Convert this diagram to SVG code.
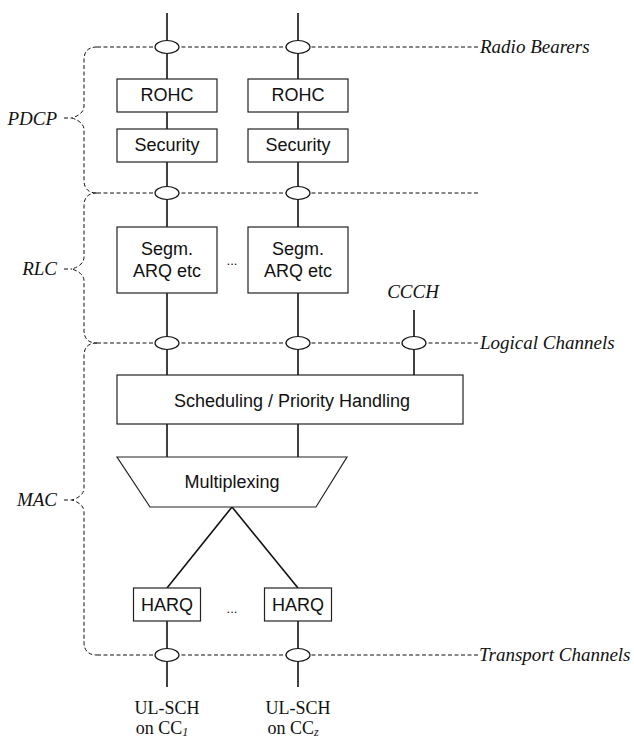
<svg xmlns="http://www.w3.org/2000/svg" width="634" height="740" viewBox="0 0 634 740">
<style>
.box{fill:#fff;stroke:#222;stroke-width:1.2}
.ln{stroke:#111;stroke-width:1.6;fill:none}
.dash{stroke:#111;stroke-width:1;fill:none;stroke-dasharray:4 2.5}
.ell{fill:#fff;stroke:#111;stroke-width:1.2}
.t{font-family:"Liberation Sans",Arial,sans-serif;font-size:18px;fill:#111;text-anchor:middle}
.it{font-family:"Liberation Serif","Times New Roman",serif;font-style:italic;font-size:19px;fill:#111}
.sr{font-family:"Liberation Serif","Times New Roman",serif;font-size:18px;fill:#111}
.dots{font-family:"Liberation Sans",Arial,sans-serif;font-size:13px;fill:#111;text-anchor:middle}
</style>
<rect width="634" height="740" fill="#fff"/>
<g id="connectors">
<line class="ln" x1="167" y1="13" x2="167" y2="79"/>
<line class="ln" x1="298" y1="13" x2="298" y2="79"/>
<line class="ln" x1="167" y1="112" x2="167" y2="129"/>
<line class="ln" x1="298" y1="112" x2="298" y2="129"/>
<line class="ln" x1="167" y1="162" x2="167" y2="227"/>
<line class="ln" x1="298" y1="162" x2="298" y2="227"/>
<line class="ln" x1="167" y1="293" x2="167" y2="375"/>
<line class="ln" x1="298" y1="293" x2="298" y2="375"/>
<line class="ln" x1="414" y1="310" x2="414" y2="375"/>
<line class="ln" x1="167" y1="424" x2="167" y2="457"/>
<line class="ln" x1="298" y1="424" x2="298" y2="457"/>
<line class="ln" x1="232" y1="507" x2="167" y2="588"/>
<line class="ln" x1="232" y1="507" x2="298" y2="588"/>
<line class="ln" x1="167" y1="621" x2="167" y2="687"/>
<line class="ln" x1="298" y1="621" x2="298" y2="687"/>
<line class="dash" x1="97" y1="47" x2="480" y2="47"/>
<line class="dash" x1="97" y1="193" x2="480" y2="193"/>
<line class="dash" x1="97" y1="343" x2="480" y2="343"/>
<line class="dash" x1="97" y1="655" x2="479" y2="655"/>
<path class="dash" d="M97 47 Q84 47 84 60 L84 106 Q84 114 72 118 Q84 122 84 130 L84 180 Q84 193 97 193"/>
<path class="dash" d="M64 118 L72 118"/>
<path class="dash" d="M97 193 Q84 193 84 206 L84 257 Q84 265 72 269 Q84 273 84 281 L84 330 Q84 343 97 343"/>
<path class="dash" d="M64 269 L72 269"/>
<path class="dash" d="M97 343 Q84 343 84 356 L84 488 Q84 496 72 500 Q84 504 84 512 L84 642 Q84 655 97 655"/>
<path class="dash" d="M64 500 L72 500"/>
<ellipse class="ell" cx="167" cy="47" rx="12" ry="6.5"/>
<ellipse class="ell" cx="298" cy="47" rx="12" ry="6.5"/>
<ellipse class="ell" cx="167" cy="193" rx="12" ry="6.5"/>
<ellipse class="ell" cx="298" cy="193" rx="12" ry="6.5"/>
<ellipse class="ell" cx="167" cy="343" rx="12" ry="6.5"/>
<ellipse class="ell" cx="298" cy="343" rx="12" ry="6.5"/>
<ellipse class="ell" cx="414" cy="343" rx="12" ry="6.5"/>
<ellipse class="ell" cx="167" cy="655" rx="12" ry="6.5"/>
<ellipse class="ell" cx="298" cy="655" rx="12" ry="6.5"/>
</g>
<g id="rohc1"><rect class="box" x="117" y="79" width="100" height="33"/><text class="t" x="167" y="101">ROHC</text></g>
<g id="rohc2"><rect class="box" x="248" y="79" width="100" height="33"/><text class="t" x="298" y="101">ROHC</text></g>
<g id="sec1"><rect class="box" x="117" y="129" width="100" height="33"/><text class="t" x="167" y="151">Security</text></g>
<g id="sec2"><rect class="box" x="248" y="129" width="100" height="33"/><text class="t" x="298" y="151">Security</text></g>
<g id="segm1"><rect class="box" x="117" y="227" width="100" height="66"/><text class="t" x="167" y="255">Segm.</text><text class="t" x="167" y="277">ARQ etc</text></g>
<g id="segm2"><rect class="box" x="248" y="227" width="100" height="66"/><text class="t" x="298" y="255">Segm.</text><text class="t" x="298" y="277">ARQ etc</text></g>
<text class="dots" x="232" y="265">...</text>
<g id="sched"><rect class="box" x="117" y="375" width="346" height="49"/><text class="t" x="292" y="407">Scheduling / Priority Handling</text></g>
<g id="mux"><polygon class="box" points="117,457 347,457 316,507 150,507"/><text class="t" x="232" y="488">Multiplexing</text></g>
<g id="harq1"><rect class="box" x="133.5" y="588" width="67" height="33"/><text class="t" x="167" y="611">HARQ</text></g>
<g id="harq2"><rect class="box" x="264.5" y="588" width="67" height="33"/><text class="t" x="298" y="611">HARQ</text></g>
<text class="dots" x="232" y="613">...</text>
<g id="labels">
<text class="it" x="480" y="53">Radio Bearers</text>
<text class="it" x="480" y="349">Logical Channels</text>
<text class="it" x="479" y="661">Transport Channels</text>
<text class="it" x="413" y="298" text-anchor="middle">CCCH</text>
<text class="it" x="57" y="125" text-anchor="end">PDCP</text>
<text class="it" x="57" y="275" text-anchor="end">RLC</text>
<text class="it" x="57" y="506" text-anchor="end">MAC</text>
<text class="sr" x="167" y="714" text-anchor="middle">UL-SCH</text>
<text class="sr" x="298" y="714" text-anchor="middle">UL-SCH</text>
<text class="sr" x="162" y="734" text-anchor="middle">on CC<tspan font-style="italic" font-size="12" dy="2">1</tspan></text>
<text class="sr" x="293" y="734" text-anchor="middle">on CC<tspan font-style="italic" font-size="12" dy="2">z</tspan></text>
</g>
</svg>
